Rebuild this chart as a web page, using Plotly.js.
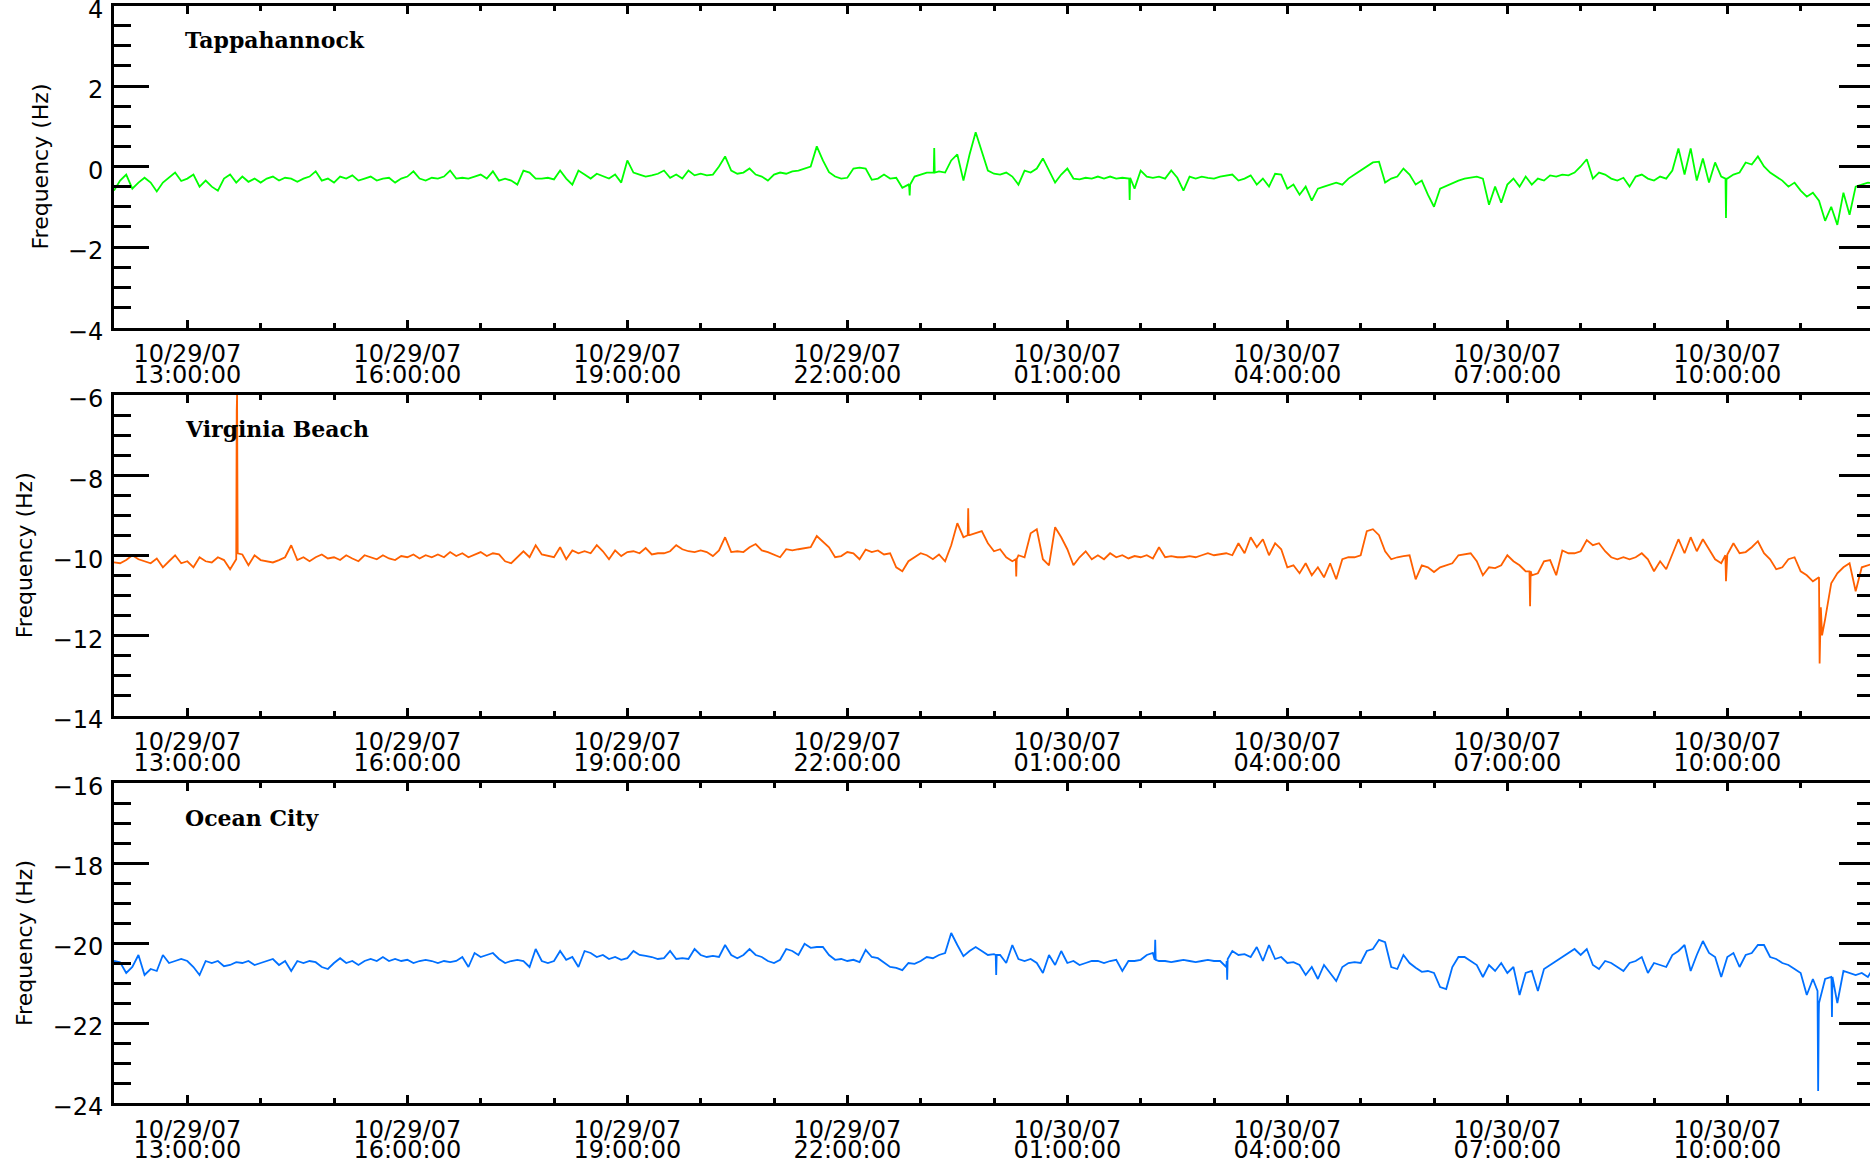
<!DOCTYPE html>
<html>
<head>
<meta charset="utf-8">
<script src="https://cdn.plot.ly/plotly-3.0.1.min.js"></script>
<style>html,body{margin:0;padding:0;overflow:hidden;background:#fff}</style>
</head>
<body>
<div id="chart" style="width:1880px;height:1163px"></div>
<script>
// ---------------- data ----------------
const startTime = '2007-10-29T12:00:00Z';
const sampleStepMinutes = 5;
const stations = ['Tappahannock', 'Virginia Beach', 'Ocean City'];

const tickTimes = ['2007-10-29 13:00:00','2007-10-29 16:00:00','2007-10-29 19:00:00','2007-10-29 22:00:00',
                   '2007-10-30 01:00:00','2007-10-30 04:00:00','2007-10-30 07:00:00','2007-10-30 10:00:00'];
const tickDates = ['10/29/07','10/29/07','10/29/07','10/29/07','10/30/07','10/30/07','10/30/07','10/30/07'];
const tickClock = ['13:00:00','16:00:00','19:00:00','22:00:00','01:00:00','04:00:00','07:00:00','10:00:00'];

// Tappahannock, Hz, every 5 minutes from 12:00
const tapValues = [
-0.6,-0.35,-0.2,-0.55,-0.4,-0.28,-0.4,-0.62,-0.4,-0.28,-0.15,-0.36,
-0.3,-0.2,-0.5,-0.35,-0.5,-0.6,-0.3,-0.2,-0.4,-0.25,-0.38,-0.3,
-0.4,-0.3,-0.25,-0.35,-0.28,-0.3,-0.38,-0.3,-0.25,-0.12,-0.35,-0.3,
-0.4,-0.25,-0.3,-0.22,-0.35,-0.3,-0.25,-0.35,-0.3,-0.28,-0.4,-0.3,
-0.25,-0.12,-0.3,-0.35,-0.28,-0.3,-0.25,-0.1,-0.3,-0.28,-0.3,-0.25,
-0.2,-0.3,-0.12,-0.35,-0.3,-0.35,-0.45,-0.1,-0.15,-0.3,-0.3,-0.28,
-0.32,-0.1,-0.3,-0.45,-0.1,-0.2,-0.3,-0.18,-0.25,-0.3,-0.2,-0.4,
0.15,-0.15,-0.2,-0.25,-0.22,-0.18,-0.1,-0.28,-0.2,-0.3,-0.1,-0.22,
-0.18,-0.22,-0.2,0.0,0.25,-0.1,-0.18,-0.15,-0.05,-0.2,-0.25,-0.35,
-0.2,-0.15,-0.18,-0.12,-0.1,-0.05,0.0,0.5,0.15,-0.14,-0.25,-0.3,
-0.28,-0.05,-0.03,-0.05,-0.33,-0.3,-0.2,-0.3,-0.28,-0.53,-0.45,-0.25,
-0.2,-0.15,-0.15,-0.12,-0.15,0.15,0.3,-0.35,0.3,0.85,0.4,-0.1,
-0.18,-0.2,-0.15,-0.25,-0.45,-0.1,-0.15,-0.05,0.2,-0.1,-0.4,-0.2,
-0.05,-0.3,-0.32,-0.28,-0.3,-0.25,-0.3,-0.25,-0.3,-0.28,-0.3,-0.55,
-0.1,-0.25,-0.28,-0.25,-0.3,-0.1,-0.28,-0.6,-0.25,-0.3,-0.25,-0.28,
-0.3,-0.25,-0.22,-0.2,-0.35,-0.3,-0.22,-0.45,-0.3,-0.5,-0.18,-0.2,
-0.55,-0.45,-0.7,-0.5,-0.85,-0.55,-0.5,-0.45,-0.4,-0.45,-0.3,-0.2,
-0.1,0.0,0.1,0.12,-0.4,-0.3,-0.25,-0.05,-0.2,-0.45,-0.35,-0.7,
-1.0,-0.55,-0.48,-0.4,-0.35,-0.3,-0.28,-0.25,-0.3,-0.95,-0.5,-0.9,
-0.45,-0.3,-0.5,-0.25,-0.45,-0.3,-0.35,-0.22,-0.25,-0.2,-0.22,-0.15,
0.0,0.18,-0.3,-0.15,-0.2,-0.3,-0.35,-0.28,-0.5,-0.25,-0.2,-0.3,
-0.35,-0.25,-0.3,-0.1,0.45,-0.2,0.45,-0.35,0.2,-0.4,0.1,-0.25,
-0.3,-0.2,-0.15,0.1,0.05,0.25,0.0,-0.15,-0.25,-0.35,-0.5,-0.4,
-0.6,-0.75,-0.65,-0.85,-1.35,-1.0,-1.45,-0.65,-1.2,-0.5,-0.45,-0.4,
-0.42];
const tapSpikeMinutes = [650.6, 651.0, 651.4, 670.7, 671.1, 671.5, 830.6, 831.0, 831.4, 1318.5, 1318.9, 1319.3];
const tapSpikeValues  = [-0.5, -0.72, -0.45, -0.15, 0.46, -0.15, -0.3, -0.83, -0.28, -0.3, -1.28, -0.3];

// Virginia Beach, Hz
const vbValues = [
-10.18,-10.2,-10.12,-10.0,-10.1,-10.15,-10.2,-10.08,-10.3,-10.15,-10.0,-10.2,
-10.15,-10.3,-10.05,-10.15,-10.18,-10.05,-10.12,-10.35,-10.1,-9.98,-10.25,-10.0,
-10.12,-10.15,-10.18,-10.12,-10.05,-9.75,-10.12,-10.05,-10.15,-10.05,-9.98,-10.08,
-10.05,-10.12,-10.0,-10.08,-10.15,-10.0,-10.05,-10.1,-10.0,-10.08,-10.12,-10.02,
-10.05,-9.98,-10.08,-10.0,-10.05,-9.98,-10.05,-9.92,-10.02,-9.95,-10.05,-9.98,
-9.92,-10.02,-9.95,-9.98,-10.15,-10.2,-10.05,-9.9,-10.05,-9.75,-9.98,-10.02,
-10.05,-9.8,-10.1,-9.88,-9.95,-9.9,-9.95,-9.75,-9.9,-10.1,-9.88,-10.02,
-9.92,-9.9,-9.95,-9.82,-9.98,-9.95,-9.95,-9.9,-9.75,-9.85,-9.9,-9.92,
-9.88,-9.92,-10.02,-9.88,-9.55,-9.92,-9.9,-9.92,-9.8,-9.72,-9.88,-9.92,
-9.98,-10.05,-9.85,-9.88,-9.85,-9.82,-9.8,-9.52,-9.65,-9.8,-10.05,-10.02,
-9.92,-9.95,-10.1,-9.86,-9.92,-9.88,-9.98,-9.95,-10.3,-10.4,-10.15,-10.05,
-9.95,-10.0,-10.1,-9.98,-10.15,-9.75,-9.2,-9.55,-9.5,-9.45,-9.4,-9.7,
-9.9,-9.85,-10.05,-10.15,-10.0,-10.05,-9.45,-9.35,-10.1,-10.25,-9.3,-9.55,
-9.85,-10.25,-10.05,-9.9,-10.1,-10.0,-10.1,-9.95,-10.05,-10.0,-10.08,-10.02,
-10.05,-10.0,-10.08,-9.8,-10.05,-10.02,-10.05,-10.05,-10.02,-10.05,-10.0,-9.95,
-10.0,-9.98,-9.95,-10.0,-9.7,-9.95,-9.55,-9.8,-9.6,-10.0,-9.7,-9.85,
-10.3,-10.25,-10.45,-10.2,-10.5,-10.3,-10.55,-10.2,-10.6,-10.1,-10.05,-10.05,
-10.0,-9.4,-9.35,-9.5,-9.9,-10.1,-10.05,-10.02,-10.0,-10.6,-10.25,-10.3,
-10.42,-10.3,-10.25,-10.2,-10.0,-9.98,-9.95,-10.15,-10.5,-10.3,-10.32,-10.25,
-10.0,-10.15,-10.25,-10.4,-10.5,-10.45,-10.15,-10.12,-10.5,-9.88,-9.95,-9.95,
-9.9,-9.62,-9.75,-9.7,-9.9,-10.05,-10.1,-10.05,-10.1,-10.05,-9.95,-10.1,
-10.4,-10.15,-10.35,-9.95,-9.6,-9.95,-9.55,-9.9,-9.6,-9.85,-10.1,-10.2,
-9.98,-9.7,-9.95,-9.92,-9.8,-9.65,-9.95,-10.1,-10.35,-10.3,-10.1,-10.05,
-10.4,-10.5,-10.65,-10.55,-11.6,-10.7,-10.45,-10.3,-10.2,-10.9,-10.3,-10.25,
-10.2];
const vbSpikeMinutes = [100.0, 100.4, 100.7, 101.2, 698.5, 698.9, 699.3, 737.8, 738.2, 738.6, 1158.1, 1158.6, 1159.1, 1318.4, 1318.9, 1319.4, 1395.5, 1396.5, 1397.5];
const vbSpikeValues  = [-10.1, -6.4, -6.0, -9.95, -9.5, -8.83, -9.5, -10.1, -10.53, -10.1, -10.4, -11.27, -10.4, -10.0, -10.65, -10.0, -12.7, -11.3, -12.0];

// Ocean City, Hz
const ocValues = [
-20.45,-20.48,-20.75,-20.6,-20.3,-20.8,-20.65,-20.7,-20.3,-20.5,-20.45,-20.4,
-20.45,-20.6,-20.8,-20.45,-20.5,-20.45,-20.58,-20.55,-20.48,-20.5,-20.45,-20.55,
-20.5,-20.45,-20.4,-20.55,-20.45,-20.7,-20.45,-20.5,-20.45,-20.48,-20.6,-20.65,
-20.5,-20.38,-20.5,-20.45,-20.55,-20.45,-20.4,-20.45,-20.35,-20.45,-20.4,-20.45,
-20.42,-20.5,-20.45,-20.42,-20.45,-20.5,-20.45,-20.48,-20.45,-20.35,-20.6,-20.25,
-20.35,-20.3,-20.25,-20.4,-20.5,-20.45,-20.42,-20.45,-20.6,-20.15,-20.45,-20.5,
-20.45,-20.2,-20.42,-20.35,-20.6,-20.2,-20.25,-20.35,-20.3,-20.4,-20.35,-20.42,
-20.38,-20.2,-20.3,-20.32,-20.35,-20.4,-20.38,-20.2,-20.4,-20.38,-20.4,-20.15,
-20.3,-20.35,-20.32,-20.35,-20.05,-20.3,-20.38,-20.3,-20.15,-20.3,-20.35,-20.45,
-20.5,-20.42,-20.15,-20.2,-20.3,-20.02,-20.12,-20.1,-20.1,-20.3,-20.42,-20.4,
-20.45,-20.42,-20.48,-20.17,-20.35,-20.38,-20.5,-20.6,-20.62,-20.68,-20.5,-20.52,
-20.45,-20.35,-20.38,-20.3,-20.25,-19.75,-20.05,-20.33,-20.2,-20.1,-20.2,-20.3,
-20.28,-20.3,-20.5,-20.05,-20.4,-20.45,-20.4,-20.5,-20.75,-20.3,-20.55,-20.2,
-20.5,-20.45,-20.55,-20.5,-20.45,-20.45,-20.5,-20.45,-20.42,-20.7,-20.45,-20.45,
-20.42,-20.3,-20.25,-20.45,-20.45,-20.48,-20.45,-20.42,-20.45,-20.48,-20.45,-20.42,
-20.45,-20.45,-20.6,-20.2,-20.3,-20.28,-20.35,-20.1,-20.45,-20.05,-20.4,-20.35,
-20.5,-20.48,-20.55,-20.8,-20.6,-20.9,-20.55,-20.75,-20.95,-20.6,-20.5,-20.48,
-20.5,-20.2,-20.15,-19.92,-19.98,-20.6,-20.65,-20.3,-20.5,-20.62,-20.72,-20.7,
-20.75,-21.1,-21.15,-20.6,-20.35,-20.35,-20.45,-20.55,-20.85,-20.55,-20.7,-20.5,
-20.75,-20.6,-21.3,-20.75,-20.7,-21.2,-20.65,-20.55,-20.45,-20.35,-20.25,-20.15,
-20.3,-20.15,-20.55,-20.65,-20.45,-20.5,-20.6,-20.7,-20.5,-20.45,-20.35,-20.75,
-20.5,-20.55,-20.6,-20.3,-20.2,-20.05,-20.7,-20.3,-19.95,-20.25,-20.35,-20.85,
-20.35,-20.25,-20.6,-20.3,-20.25,-20.05,-20.05,-20.35,-20.4,-20.5,-20.55,-20.65,
-20.75,-21.3,-20.9,-21.5,-20.9,-20.85,-21.5,-20.7,-20.75,-20.8,-20.75,-20.85,
-20.6];
const ocSpikeMinutes = [721.4, 721.8, 722.2, 851.5, 851.9, 852.3, 910.4, 910.8, 911.2, 1393.8, 1394.3, 1394.8, 1405.2, 1405.6, 1406.0];
const ocSpikeValues  = [-20.3, -20.8, -20.3, -20.42, -19.92, -20.42, -20.45, -20.92, -20.4, -21.2, -23.7, -21.8, -20.9, -21.85, -20.85];

const lineColors = ['#00ff00', '#ff6000', '#0070ff'];
const yRanges = [[-4, 4], [-14, -6], [-24, -16]];

// ---------------- build ----------------
const t0 = Date.parse(startTime);
function stamp(min) {
  return new Date(t0 + Math.round(min * 60000)).toISOString().slice(0, 23).replace('T', ' ');
}
function buildSeries(vals, spikeMin, spikeVal) {
  const pts = vals.map((v, i) => [i * sampleStepMinutes, v]);
  spikeMin.forEach((m, k) => pts.push([m, spikeVal[k]]));
  pts.sort((a, b) => a[0] - b[0]);
  return { x: pts.map(p => stamp(p[0])), y: pts.map(p => p[1]) };
}
const series = [
  buildSeries(tapValues, tapSpikeMinutes, tapSpikeValues),
  buildSeries(vbValues, vbSpikeMinutes, vbSpikeValues),
  buildSeries(ocValues, ocSpikeMinutes, ocSpikeValues)
];
const xRange = [stamp(0), stamp(24 * 60)];

const H = 1163;
const panelPx = [[5.5, 327.5], [395, 715.5], [783, 1103]];
const domains = panelPx.map(p => [1 - p[1] / H, 1 - p[0] / H]);
const labelPx = [40, 429, 818];

const tickFont = { family: 'DejaVu Sans, sans-serif', size: 24, color: '#000' };

const traces = [];
const layout = {
  width: 1880, height: H,
  margin: { l: 114, r: 6, t: 0, b: 0, pad: 0 },
  paper_bgcolor: '#fff', plot_bgcolor: '#fff',
  showlegend: false,
  annotations: []
};

for (let k = 0; k < 3; k++) {
  const xs = k === 0 ? '' : String(k + 1);
  const ovs = String(k + 4);
  traces.push({
    type: 'scatter', mode: 'lines',
    x: series[k].x, y: series[k].y,
    xaxis: 'x' + xs, yaxis: 'y' + xs,
    line: { color: lineColors[k], width: 1.8 },
    hoverinfo: 'skip'
  });
  traces.push({ type: 'scatter', mode: 'lines', x: [], y: [], xaxis: 'x' + ovs, yaxis: 'y' + xs, hoverinfo: 'skip' });

  layout['xaxis' + xs] = {
    type: 'date', range: xRange, domain: [0, 1], anchor: 'y' + xs,
    showline: true, linewidth: 3, linecolor: '#000', mirror: 'ticks',
    ticks: 'inside', ticklen: 8, tickwidth: 3, tickcolor: '#000',
    tickmode: 'array', tickvals: tickTimes, ticktext: tickDates,
    tickfont: tickFont, ticklabelstandoff: 3,
    showgrid: false, zeroline: false, fixedrange: true,
    minor: { ticks: 'inside', ticklen: 5, tickwidth: 3, tickcolor: '#000',
             tickmode: 'linear', tick0: stamp(0), dtick: 3600000, showgrid: false }
  };
  layout['xaxis' + ovs] = {
    type: 'date', range: xRange, overlaying: 'x' + xs, anchor: 'y' + xs, side: 'bottom',
    showline: false, ticks: '', tickmode: 'array', tickvals: tickTimes, ticktext: tickClock,
    tickfont: tickFont, ticklabelstandoff: 30,
    showgrid: false, zeroline: false, fixedrange: true
  };
  layout['yaxis' + xs] = {
    range: yRanges[k], domain: domains[k], anchor: 'x' + xs,
    showline: true, linewidth: 3, linecolor: '#000', mirror: 'ticks',
    ticks: 'inside', ticklen: 35, tickwidth: 3, tickcolor: '#000',
    tickmode: 'linear', tick0: 0, dtick: 2,
    tickfont: tickFont, ticklabelstandoff: 3, ticklabelshift: 4, ticklabeloverflow: 'allow',
    showgrid: false, zeroline: false, fixedrange: true,
    minor: { ticks: 'inside', ticklen: 17, tickwidth: 3, tickcolor: '#000', dtick: 0.5, showgrid: false },
    title: { text: 'Frequency (Hz)', font: { family: 'DejaVu Sans, sans-serif', size: 22, color: '#000' }, standoff: 14 }
  };
  layout.annotations.push({
    text: stations[k], xref: 'paper', yref: 'paper',
    x: (183 - 114) / 1760, y: 1 - labelPx[k] / H,
    xanchor: 'left', yanchor: 'middle', showarrow: false,
    font: { family: 'DejaVu Serif, serif', size: 22, color: '#000', weight: 700 }
  });
}

Plotly.newPlot('chart', traces, layout, { staticPlot: true, displayModeBar: false });
</script>
</body>
</html>
